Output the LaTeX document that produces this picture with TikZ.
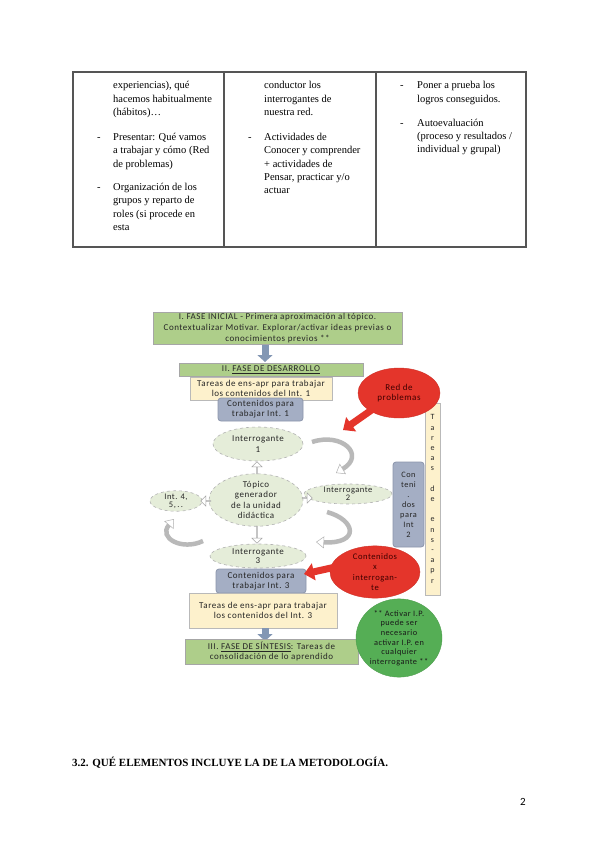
\documentclass[tikz,border=0pt]{standalone}
\usepackage{fontspec}
\setmainfont{Liberation Serif}
\newfontfamily\dgfont[LetterSpace=6]{Carlito}
\newfontfamily\pgfont{Carlito}
\usetikzlibrary{shapes.geometric,shapes.arrows,arrows.meta}
\definecolor{boxgreen}{HTML}{AECE8A}
\definecolor{cream}{HTML}{FDF1CC}
\definecolor{bluegray}{HTML}{A4AEC4}
\definecolor{bluegrayd}{HTML}{8C96AC}
\definecolor{lightgreen}{HTML}{E5EDD9}
\definecolor{redfill}{HTML}{E4352B}
\definecolor{greenfill}{HTML}{55AE55}
\definecolor{arrowblue}{HTML}{8397B4}
\definecolor{tblline}{HTML}{555555}
\tikzset{
  tbl/.style={anchor=base west, inner sep=0pt, font=\fontsize{10.5}{13}\selectfont},
  dg/.style={font=\dgfont\fontsize{9}{10.5}\selectfont, align=center, inner sep=1pt, text=black!85},
  greenbox/.style={dg, draw=gray!70, fill=boxgreen, rectangle, line width=0.6pt},
  creambox/.style={dg, draw=gray!55, fill=cream, rectangle, line width=0.6pt},
  contbox/.style={dg, draw=bluegrayd, fill=bluegray, rectangle, rounded corners=3pt, line width=0.8pt},
  intell/.style={dg, ellipse, draw=gray!60, dashed, fill=lightgreen, line width=0.6pt, inner sep=0pt},
  redell/.style={dg, ellipse, draw=redfill!90!black, fill=redfill, inner sep=0pt, text=black!75!red},
  greenell/.style={dg, ellipse, draw=greenfill!90!black, fill=greenfill, inner sep=0pt, text=black!90},
  bluearrow/.style={draw=arrowblue, line width=7pt, -{Triangle[length=7pt, width=15pt]}},
  hollowarrow/.style={single arrow, fill=white, draw=gray!70, line width=0.5pt, inner sep=0pt, minimum width=10pt, single arrow head extend=2.5pt},
  redarrow/.style={draw=redfill, line width=7pt, -{Triangle[length=10pt, width=17pt]}},
  curvearrow/.style={line width=4.5pt, draw=gray!55, -{Triangle[length=8pt, width=12pt, fill=white, line width=0.5pt, color=gray!60]}},
}
\begin{document}
\begin{tikzpicture}[x=1pt,y=-1pt]
\useasboundingbox (0,0) rectangle (600,848);
\fill[white] (0,0) rectangle (600,848);

% ---------- table ----------
\draw[tblline, line width=1.4pt] (73,72) rectangle (526,247);
\draw[tblline, line width=1.4pt] (224,72) -- (224,247);
\draw[tblline, line width=1.4pt] (376,72) -- (376,247);

\foreach \xx/\yy/\tt [count=\i] in {
  113/89/{experiencias), qué},
  113/102.5/{hacemos habitualmente},
  113/116/{(hábitos)…},
  113/140/{Presentar: Qué vamos},
  113/153.5/{a trabajar y cómo (Red},
  113/167/{de problemas)},
  113/190/{Organización de los},
  113/203.5/{grupos y reparto de},
  113/217/{roles (si procede en},
  113/230/{esta},
  264/89/{conductor los},
  264/102.5/{interrogantes de},
  264/116/{nuestra red.},
  264/140/{Actividades de},
  264/153.5/{Conocer y comprender},
  264/167/{+ actividades de},
  264/180/{Pensar, practicar y/o},
  264/193/{actuar},
  417/89/{Poner a prueba los},
  417/102.5/{logros conseguidos.},
  417/126/{Autoevaluación},
  417/139.5/{(proceso y resultados /},
  417/153/{individual y grupal)}}
  {\node[tbl] (tl\i) at (\xx,\yy) {\tt};}
\foreach \xx/\yy [count=\i] in {97/140, 97/190, 248/140, 400/89, 400/126}
  {\node[tbl] (dash\i) at (\xx,\yy) {-};}

% ---------- diagram ----------
\node[creambox, minimum width=15pt, minimum height=192pt, font=\dgfont\fontsize{8}{10.2}\selectfont] (tareasv) at (432.5,499)
  {T\\a\\r\\e\\a\\s\\~\\d\\e\\~\\e\\n\\s\\-\\a\\p\\r};

\node[greenbox, minimum width=249pt, minimum height=32pt, font=\dgfont\fontsize{9}{11.2}\selectfont, inner sep=0pt] (fase1) at (277.5,328)
  {I. FASE INICIAL - Primera aproximación al tópico.\\Contextualizar Motivar. Explorar/activar ideas previas o\\conocimientos previos **};
\coordinate (a1s) at (265,345);
\coordinate (a1e) at (265,362);
\draw[bluearrow] (a1s) -- (a1e);
\node[greenbox, minimum width=184pt, minimum height=13pt, inner sep=0pt] (fase2) at (271,369.5)
  {II. \underline{FASE DE DESARROLLO}};
\node[creambox, minimum width=142pt, minimum height=23pt, font=\dgfont\fontsize{9}{10}\selectfont, inner sep=0pt] (tar1) at (261,388.5)
  {Tareas de ens-apr para trabajar\\los contenidos del Int. 1};
\node[contbox, minimum width=85pt, minimum height=23pt, font=\dgfont\fontsize{9}{10}\selectfont, inner sep=0pt] (cont1) at (260.5,409.5)
  {Contenidos para\\trabajar Int. 1};

\node[intell, minimum width=90pt, minimum height=34pt] (int1) at (258,444) {Interrogante\\1};
\node[intell, minimum width=94pt, minimum height=52pt, font=\dgfont\fontsize{9}{10.3}\selectfont] (topico) at (256,500)
  {Tópico\\generador\\de la unidad\\didáctica};
\node[intell, minimum width=88pt, minimum height=20pt, font=\dgfont\fontsize{8.5}{8}\selectfont] (int2) at (348,494) {Interrogante\\2};
\node[intell, minimum width=52pt, minimum height=20pt, font=\dgfont\fontsize{8.5}{8}\selectfont] (int45) at (176,501) {Int. 4,\\5,\,.\,.};
\node[intell, minimum width=96pt, minimum height=24pt, font=\dgfont\fontsize{9}{9}\selectfont] (int3) at (258,556) {Interrogante\\3};

\node[hollowarrow, rotate=90, minimum height=12pt] (h1) at (257,468) {};
\node[hollowarrow, rotate=-90, minimum height=17pt] (h2) at (257,534.5) {};
\node[hollowarrow, rotate=0, minimum height=10pt] (h3) at (307,498) {};
\node[hollowarrow, rotate=180, minimum height=10pt] (h4) at (206,501) {};

\coordinate (c1s) at (312,442);
\coordinate (c1e) at (336,473);
\coordinate (c2s) at (327,512);
\coordinate (c2e) at (316,542);
\coordinate (c3s) at (203,541);
\coordinate (c3e) at (174,519);
\draw[curvearrow] (c1s) .. controls (342,432) and (366,455) .. (c1e);
\draw[curvearrow] (c2s) .. controls (356,520) and (360,544) .. (c2e);
\draw[curvearrow] (c3s) .. controls (182,551) and (158,538) .. (c3e);

\node[contbox, minimum width=90pt, minimum height=24pt, font=\dgfont\fontsize{9}{10}\selectfont, inner sep=0pt] (cont3) at (261,581)
  {Contenidos para\\trabajar Int. 3};
\node[creambox, minimum width=148pt, minimum height=35pt, font=\dgfont\fontsize{9}{10.5}\selectfont] (tar3) at (263,610.5)
  {Tareas de ens-apr para trabajar\\los contenidos del Int. 3};
\coordinate (a2s) at (265,628);
\coordinate (a2e) at (265,641);
\draw[bluearrow] (a2s) -- (a2e);
\node[greenbox, minimum width=173pt, minimum height=25pt, font=\dgfont\fontsize{9}{10.5}\selectfont, inner sep=0pt] (fase3) at (271.5,651.5)
  {III. \underline{FASE DE SÍNTESIS}: Tareas de\\consolidación de lo aprendido};

\node[contbox, minimum width=31pt, minimum height=85pt, font=\dgfont\fontsize{8.3}{10}\selectfont] (cont2) at (408.5,504.5)
  {Con\\teni\\.\\dos\\para\\Int\\2};

\node[redell, minimum width=82pt, minimum height=50pt] (red1) at (399,393) {Red de\\problemas};
\coordinate (r1s) at (373,409);
\coordinate (r1e) at (343,430);
\draw[redarrow] (r1s) -- (r1e);
\node[redell, minimum width=90pt, minimum height=50pt, font=\dgfont\fontsize{8.6}{10.3}\selectfont] (red2) at (375,572)
  {Contenidos\\x\\interrogan-\\te};
\coordinate (r2s) at (340,566);
\coordinate (r2e) at (304,574);
\draw[redarrow] (r2s) -- (r2e);
\node[greenell, minimum width=86pt, minimum height=66pt, font=\dgfont\fontsize{8.3}{9.6}\selectfont] (gr) at (399,638)
  {** Activar I.P.\\puede ser\\necesario\\activar I.P. en\\cualquier\\interrogante **};

% ---------- heading and page number ----------
\node[anchor=base west, inner sep=0pt, font=\bfseries\fontsize{11}{13}\selectfont] (head) at (72,766)
  {3.2. QUÉ ELEMENTOS INCLUYE LA DE LA METODOLOGÍA.};
\node[inner sep=0pt, font=\pgfont\fontsize{11}{13}\selectfont] (pnum) at (523,802) {2};
\end{tikzpicture}
\end{document}
